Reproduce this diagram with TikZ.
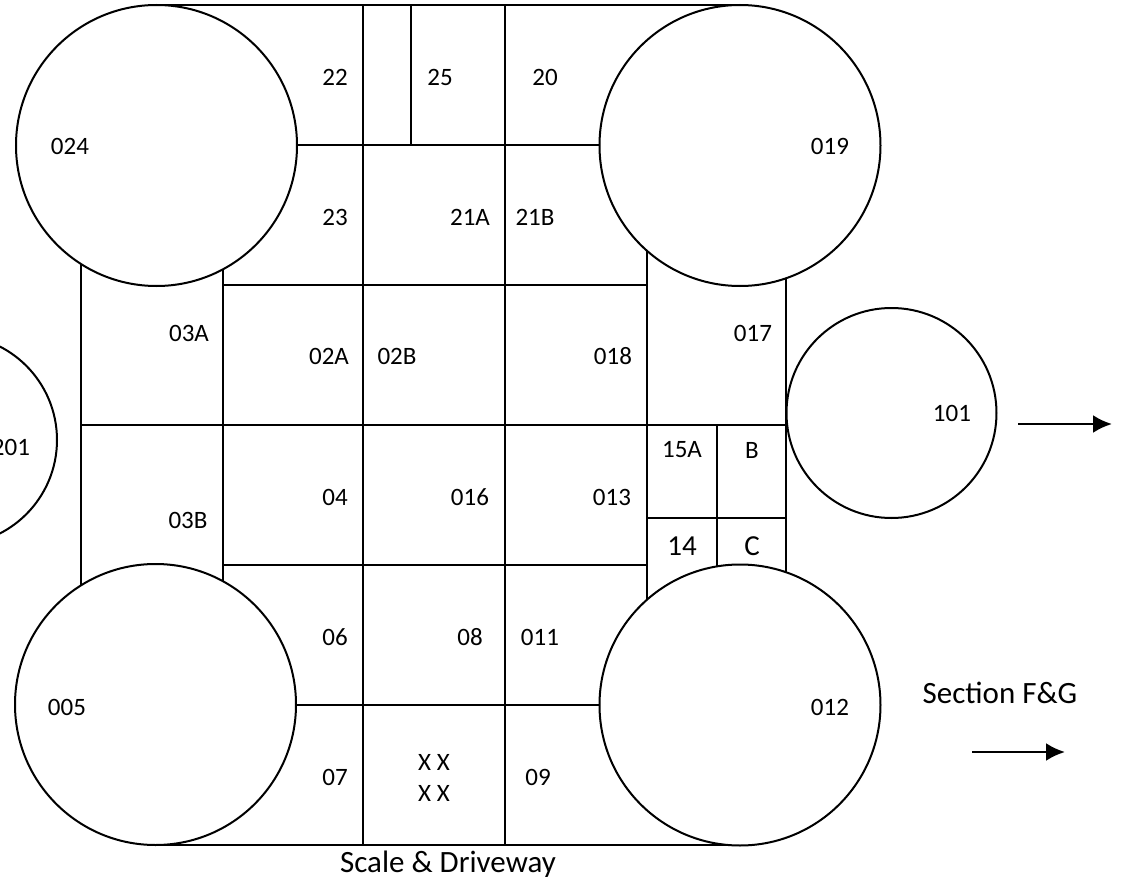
\documentclass[tikz,border=0pt]{standalone}
\usepackage{fontspec}
\setmainfont{Carlito}
\usetikzlibrary{arrows.meta}

\tikzstyle{bin}=[circle,
                 draw=black,
                 fill=white,
                 line width=1pt]
\tikzstyle{bigbin}=[bin, minimum size=140.5pt]
\tikzstyle{smallbin}=[bin, minimum size=105pt]
\tikzstyle{room}=[inner sep=0pt, font=\fontsize{12.5}{15}\selectfont]
\tikzstyle{bigroom}=[room, font=\fontsize{14.5}{17}\selectfont]
\tikzstyle{caption}=[inner sep=0pt, font=\fontsize{15.5}{18}\selectfont]
\tikzstyle{wall}=[line width=1.3pt]
\tikzstyle{pointer}=[line width=1.3pt, -{Latex[length=9.5pt,width=9pt]}]

\begin{document}
\begin{tikzpicture}[x=0.5pt, y=-0.5pt]
  \useasboundingbox (0,0) rectangle (1121,878);

  % walls first, the bins cover their ends
  \draw[wall] (156,5)   -- (740,5);
  \draw[wall] (155,845) -- (740,845);
  \draw[wall] (363,5)   -- (363,845);
  \draw[wall] (505,5)   -- (505,845);
  \draw[wall] (411,5)   -- (411,145);
  \draw[wall] (156,145) -- (740,145);
  \draw[wall] (81,145)  -- (81,705);
  \draw[wall] (223,145) -- (223,705);
  \draw[wall] (647,145) -- (647,705);
  \draw[wall] (786,145) -- (786,705);
  \draw[wall] (717,425) -- (717,705);
  \draw[wall] (223,285) -- (647,285);
  \draw[wall] (81,425)  -- (786,425);
  \draw[wall] (647,518) -- (786,518);
  \draw[wall] (223,565) -- (647,565);
  \draw[wall] (155,705) -- (740,705);

  % bins
  \node at (156.5, 145.5) (bin024) [bigbin]   {};
  \node at (740.0, 145.5) (bin019) [bigbin]   {};
  \node at (155.5, 704.5) (bin005) [bigbin]   {};
  \node at (740.0, 705.0) (bin012) [bigbin]   {};
  \node at (891.5, 413.0) (bin101) [smallbin] {};
  \node at (-48.0, 440.0) (bin201) [smallbin] {};

  % labels
  \node at (70,  146) (lbl024) [room]    {024};
  \node at (830, 146) (lbl019) [room]    {019};
  \node at (67,  707) (lbl005) [room]    {005};
  \node at (830, 707) (lbl012) [room]    {012};
  \node at (952, 413) (lbl101) [room]    {101};
  \node at (11,  447) (lbl201) [room]    {201};
  \node at (335,  77) (lbl22)  [room]    {22};
  \node at (440,  77) (lbl25)  [room]    {25};
  \node at (545,  77) (lbl20)  [room]    {20};
  \node at (335, 217) (lbl23)  [room]    {23};
  \node at (470, 217) (lbl21A) [room]    {21A};
  \node at (535, 217) (lbl21B) [room]    {21B};
  \node at (189, 333) (lbl03A) [room]    {03A};
  \node at (329, 356) (lbl02A) [room]    {02A};
  \node at (397, 356) (lbl02B) [room]    {02B};
  \node at (613, 356) (lbl018) [room]    {018};
  \node at (753, 333) (lbl017) [room]    {017};
  \node at (335, 497) (lbl04)  [room]    {04};
  \node at (470, 497) (lbl016) [room]    {016};
  \node at (612, 497) (lbl013) [room]    {013};
  \node at (188, 520) (lbl03B) [room]    {03B};
  \node at (682, 450) (lbl15A) [room]    {15A};
  \node at (752, 450) (lblB)   [room]    {B};
  \node at (682, 546) (lbl14)  [bigroom] {14};
  \node at (752, 546) (lblC)   [bigroom] {C};
  \node at (335, 637) (lbl06)  [room]    {06};
  \node at (470, 637) (lbl08)  [room]    {08};
  \node at (540, 637) (lbl011) [room]    {011};
  \node at (335, 777) (lbl07)  [room]    {07};
  \node at (434, 762) (lblXa)  [room]    {X X};
  \node at (434, 793) (lblXb)  [room]    {X X};
  \node at (538, 777) (lbl09)  [room]    {09};
  \node at (1000, 693) (section) [caption] {Section F\&G};
  \node at (448, 872) (scale)  [caption, anchor=base] {Scale \& Driveway};

  % arrows
  \coordinate (out101_from) at (1018, 424);
  \coordinate (out101_to)   at (1112, 424);
  \coordinate (section_from) at (972, 752);
  \coordinate (section_to)   at (1065, 752);
  \draw[pointer] (out101_from)  -- (out101_to);
  \draw[pointer] (section_from) -- (section_to);
\end{tikzpicture}
\end{document}
